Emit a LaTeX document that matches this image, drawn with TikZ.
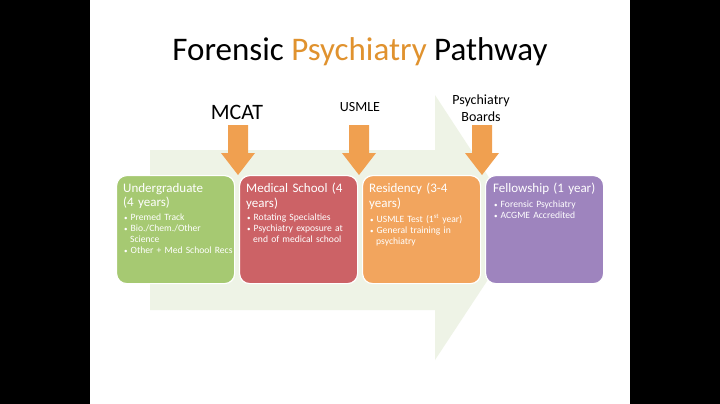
\documentclass[tikz,border=0pt]{standalone}
\usepackage{fontspec}
\setmainfont{Carlito}
\definecolor{bgarrow}{HTML}{EEF3E6}
\definecolor{cgreen}{HTML}{A6C972}
\definecolor{cred}{HTML}{CC6266}
\definecolor{corange}{HTML}{F2A55E}
\definecolor{cpurple}{HTML}{9E84BE}
\definecolor{darrow}{HTML}{F0A050}
\definecolor{ctitle}{HTML}{E0922E}
\newcommand{\bu}{{\scriptsize\textbullet}\hspace{3pt}}
\newcommand{\ind}{\hspace*{6pt}}
\tikzset{
  stage/.style={draw=white,line width=1.2pt,rounded corners=10pt,minimum width=118pt,minimum height=108pt,anchor=north west},
  stagetxt/.style={anchor=north west,text=white,align=left,text width=112pt,inner sep=0pt,font=\fontsize{13}{14.5}\selectfont},
  bul/.style={anchor=north west,text=white,align=left,text width=114pt,inner sep=0pt,font=\fontsize{9.6}{11}\selectfont},
  lab/.style={font=\fontsize{14}{16}\selectfont,align=center}
}
\newcommand{\downarr}[2]{\fill[darrow] (#1-10,#2) -- (#1+10,#2) -- (#1+10,#2+28) -- (#1+17,#2+28) -- (#1,#2+50) -- (#1-17,#2+28) -- (#1-10,#2+28) -- cycle;}
\begin{document}
\begin{tikzpicture}[x=1pt,y=-1pt]
\fill[black] (0,0) rectangle (720,404);
\fill[white] (90,0) rectangle (630,404);
\useasboundingbox (0,0) rectangle (720,404);
\fill[bgarrow] (150,150) -- (435,150) -- (435,95) -- (522,228) -- (435,360) -- (435,310) -- (150,310) -- cycle;
\node[font=\fontsize{33}{36}\selectfont] (title) at (360,52) {Forensic \textcolor{ctitle}{Psychiatry} Pathway};
\downarr{238}{125}
\downarr{359}{125}
\downarr{482}{125}
\node[stage,fill=cgreen] (b1) at (116,175) {};
\node[stage,fill=cred] (b2) at (239,175) {};
\node[stage,fill=corange] (b3) at (362,175) {};
\node[stage,fill=cpurple] (b4) at (485,175) {};
\node[stagetxt] (t1) at (123,183) {Undergraduate\\(4 years)};
\node[bul] (u1) at (124,214) {\bu Premed Track\\\bu Bio./Chem./Other\\\ind Science\\\bu Other + Med School Recs};
\node[stagetxt] (t2) at (246,183) {Medical School (4\\years)};
\node[bul] (u2) at (247,214) {\bu Rotating Specialties\\\bu Psychiatry exposure at\\\ind end of medical school};
\node[stagetxt] (t3) at (369,183) {Residency (3-4\\years)};
\node[bul] (u3) at (370,214) {\bu USMLE Test (1\textsuperscript{st} year)\\\bu General training in\\\ind psychiatry};
\node[stagetxt] (t4) at (493,183) {Fellowship (1 year)};
\node[bul] (u4) at (494,201) {\bu Forensic Psychiatry\\\bu ACGME Accredited};
\node[font=\fontsize{22}{24}\selectfont] (mcat) at (237,112) {MCAT};
\node[lab] (usmle) at (360,107) {USMLE};
\node[lab,font=\fontsize{14}{17}\selectfont] (boards) at (481,108) {Psychiatry\\Boards};
\end{tikzpicture}
\end{document}
